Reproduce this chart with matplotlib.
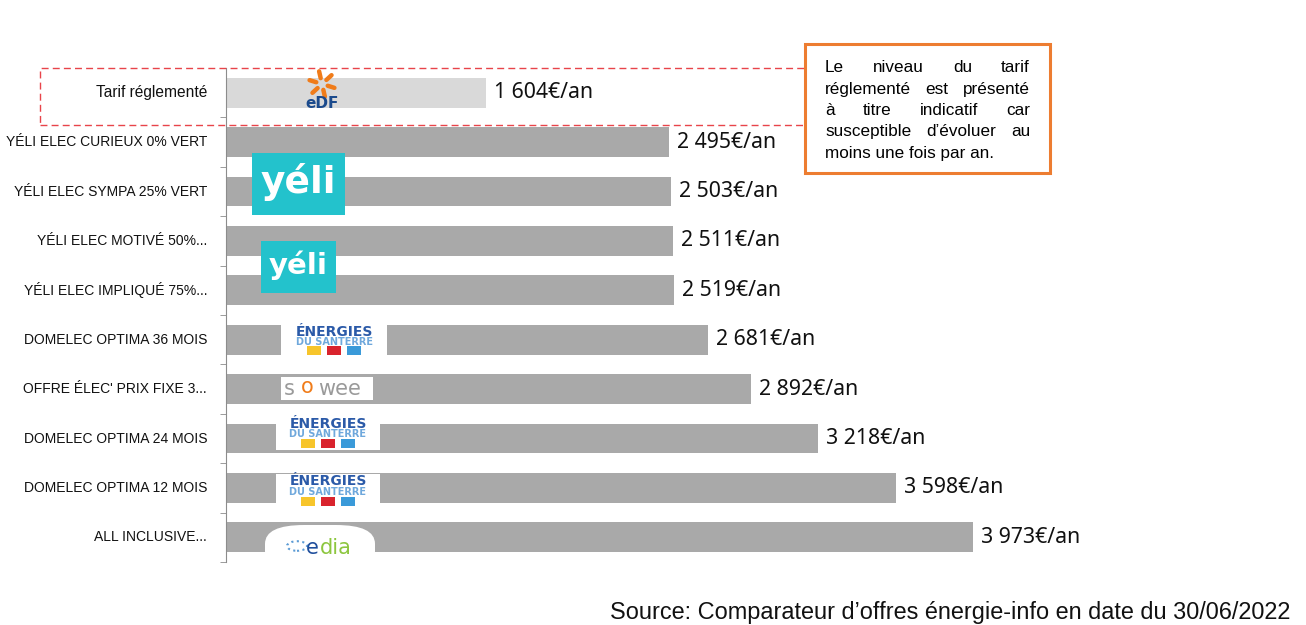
import matplotlib
matplotlib.use("Agg")
import matplotlib.pyplot as plt
from matplotlib.patches import Rectangle, FancyBboxPatch, Circle
import numpy as np

# Données
offres = ["Tarif réglementé", "YÉLI ELEC CURIEUX 0% VERT", "YÉLI ELEC SYMPA 25% VERT",
          "YÉLI ELEC MOTIVÉ 50%...", "YÉLI ELEC IMPLIQUÉ 75%...", "DOMELEC OPTIMA 36 MOIS",
          "OFFRE ÉLEC' PRIX FIXE 3...", "DOMELEC OPTIMA 24 MOIS", "DOMELEC OPTIMA 12 MOIS",
          "ALL INCLUSIVE..."]
prix = [1604, 2495, 2503, 2511, 2519, 2681, 2892, 3218, 3598, 3973]
etiquettes = ["1 604€/an", "2 495€/an", "2 503€/an", "2 511€/an", "2 519€/an",
              "2 681€/an", "2 892€/an", "3 218€/an", "3 598€/an", "3 973€/an"]
lignes_note = ["Le niveau du tarif", "réglementé est présenté", "à titre indicatif car",
               "susceptible d’évoluer au", "moins une fois par an."]
source = "Source: Comparateur d’offres énergie-info en date du 30/06/2022"

W, H = 1306, 625
fig = plt.figure(figsize=(W / 100, H / 100), dpi=100)


def fx(x):
    return x / W


def fy(y):
    return 1 - y / H


ax = fig.add_axes([fx(226), fy(562), fx(1100) - fx(226), fy(68) - fy(562)])
y = np.arange(len(offres))
couleurs = ["#d9d9d9"] + ["#a9a9a9"] * (len(offres) - 1)
ax.barh(y, prix, height=0.6, color=couleurs)
ax.set_xlim(340, 340 + 874 / 0.2057)
ax.set_ylim(len(offres) - 0.5, -0.5)

for i, (v, t) in enumerate(zip(prix, etiquettes)):
    ax.annotate(t, (v, i), xytext=(8, 0), textcoords="offset pixels",
                va="center", ha="left", fontsize=15.3, family="Noto Sans", color="#111111")

ax.set_yticks(y)
ax.set_yticklabels([])
ax.set_yticks(np.arange(-0.5, len(offres)), minor=True)
ax.tick_params(axis="y", which="major", length=0)
ax.tick_params(axis="y", which="minor", length=4, color="#8c8c8c")
for i, lab in enumerate(offres):
    ax.text(-19 / 874, i, lab, transform=ax.get_yaxis_transform(),
            ha="right", va="center", fontsize=11.2 if i == 0 else 10,
            family="Liberation Sans", color="#111111",
            weight="normal" if i == 0 else "medium")

ax.set_xticks([])
for s in ["top", "right", "bottom"]:
    ax.spines[s].set_visible(False)
ax.spines["left"].set_color("#8c8c8c")

# cadre pointillé autour du tarif réglementé
fig.add_artist(Rectangle((fx(40), fy(125)), fx(810) - fx(40), fy(68) - fy(125),
                         fill=False, ls=(0, (5, 3)), lw=1, ec="#e8444a", zorder=2))

# encadré orange, texte justifié
fig.add_artist(Rectangle((fx(805), fy(173)), fx(1050) - fx(805), fy(44) - fy(173),
                         fc="white", ec="#ed7d31", lw=2.2, zorder=3))
r = fig.canvas.get_renderer()
gauche, droite = 825, 1030
for k, ligne in enumerate(lignes_note):
    yy = fy(68 + k * 21.3)
    mots = ligne.split()
    if k == len(lignes_note) - 1:
        fig.text(fx(gauche), yy, ligne, fontsize=12.3, family="Liberation Sans",
                 va="center", zorder=4)
        continue
    objs = [fig.text(0, yy, m, fontsize=12.3, family="Liberation Sans", va="center", zorder=4)
            for m in mots]
    larg = [o.get_window_extent(r).width for o in objs]
    esp = (droite - gauche - sum(larg)) / (len(mots) - 1)
    x = gauche
    for o, l in zip(objs, larg):
        o.set_x(fx(x))
        x += l + esp

fig.text(fx(1290), fy(612), source, ha="right", va="center", fontsize=16.9,
         family="Liberation Sans", color="#111111")

# logos (approximation)
for a in np.linspace(0, 2 * np.pi, 6, endpoint=False):
    c, s = np.cos(a + 0.3), np.sin(a + 0.3)
    fig.add_artist(plt.Line2D([fx(322 + 6 * c), fx(322 + 13 * c)],
                              [fy(84 + 6 * s), fy(84 + 13 * s)],
                              color="#f07c1a", lw=3.2, solid_capstyle="round", zorder=3))
fig.text(fx(322), fy(104), "eDF", ha="center", va="center", fontsize=11,
         weight="bold", color="#1b4a8c", zorder=3)


def yeli(x0, y0, x1, y1, fs):
    fig.add_artist(Rectangle((fx(x0), fy(y1)), fx(x1) - fx(x0), fy(y0) - fy(y1),
                             fc="#23c2cc", ec="none", zorder=3))
    fig.text(fx((x0 + x1) / 2), fy((y0 + y1) / 2 - 2), "yéli", ha="center", va="center",
             fontsize=fs, weight="bold", color="white", zorder=4)


yeli(252, 153, 345, 215, 27)
yeli(261, 241, 336, 293, 21)


def energies(x0, y0, x1, y1):
    fig.add_artist(Rectangle((fx(x0), fy(y1)), fx(x1) - fx(x0), fy(y0) - fy(y1),
                             fc="white", ec="none", zorder=3))
    cx = (x0 + x1) / 2
    hh = y1 - y0
    fig.text(fx(cx), fy(y0 + hh * 0.22), "ÉNERGIES", ha="center", va="center",
             fontsize=10, weight="bold", color="#2b5aa8", zorder=4)
    fig.text(fx(cx), fy(y0 + hh * 0.52), "DU SANTERRE", ha="center", va="center",
             fontsize=7, weight="bold", color="#6fa8dc", zorder=4)
    for j, c in enumerate(["#f7c52b", "#d9232d", "#3a9ad9"]):
        xx = cx - 27 + j * 20
        fig.add_artist(Rectangle((fx(xx), fy(y1 - 2)), fx(14), fy(0) - fy(9),
                                 fc=c, ec="none", zorder=4))


energies(281, 325, 387, 357)
energies(276, 417, 380, 450)
energies(276, 474, 380, 508)

fig.add_artist(Rectangle((fx(281), fy(400)), fx(92), fy(0) - fy(23),
                         fc="white", ec="none", zorder=3))
fig.text(fx(284), fy(389), "s", ha="left", va="center", fontsize=15, color="#9a9a9a", zorder=4)
fig.text(fx(301), fy(387), "o", ha="left", va="center", fontsize=15, color="#f07c1a", zorder=4)
fig.text(fx(318), fy(389), "wee", ha="left", va="center", fontsize=15, color="#9a9a9a", zorder=4)

fig.add_artist(FancyBboxPatch((fx(265), fy(570)), fx(110), fy(0) - fy(45),
                              boxstyle="round,pad=0,rounding_size=0.03",
                              fc="white", ec="none", zorder=3))
fig.add_artist(Circle((fx(297), fy(546)), fx(10), fc="none", ec="#5b9bd5",
                      lw=1.5, ls=":", zorder=4))
fig.text(fx(306), fy(548), "e", ha="left", va="center", fontsize=15, color="#1f4e9c", zorder=4)
fig.text(fx(320), fy(548), "dia", ha="left", va="center", fontsize=15, color="#8dc63f", zorder=4)

fig.savefig("out.png", dpi=100)
